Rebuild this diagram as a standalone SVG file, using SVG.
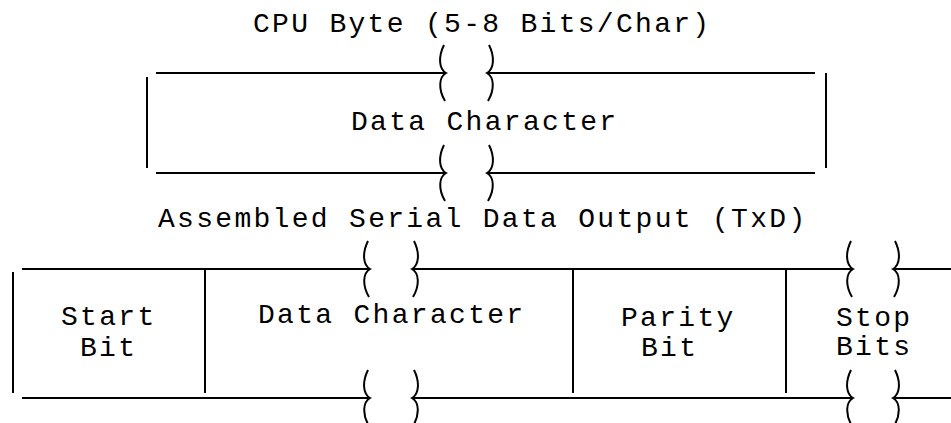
<svg xmlns="http://www.w3.org/2000/svg" width="951" height="423" viewBox="0 0 951 423">
<style>
  .ln { stroke: #000; stroke-width: 2; fill: none; stroke-linecap: butt; }
  .br { stroke: #000; stroke-width: 2; fill: none; }
  .t { font-family: "Liberation Mono", "DejaVu Sans Mono", monospace; font-size: 28px; letter-spacing: 2.3px; fill: #000; }
</style>
<defs>
  <path id="brL" class="br" d="M -2,-28 C -8,-16 -7,-4 0,0 C -7,4 -8,16 -1,28"/>
  <path id="brR" class="br" d="M 2,-28 C 8,-16 7,-4 0,0 C 7,4 8,16 1,28"/>
</defs>
<rect width="951" height="423" fill="#fff"/>

<text class="t" x="253" y="32">CPU Byte (5-8 Bits/Char)</text>

<g id="cpu-data-character">
  <line class="ln" x1="156" y1="73" x2="446" y2="73"/>
  <line class="ln" x1="487" y1="73" x2="815" y2="73"/>
  <line class="ln" x1="156" y1="173" x2="446" y2="173"/>
  <line class="ln" x1="487" y1="173" x2="815" y2="173"/>
  <line class="ln" x1="147" y1="77" x2="147" y2="168"/>
  <line class="ln" x1="826" y1="73" x2="826" y2="168"/>
  <use href="#brL" x="446" y="73"/>
  <use href="#brR" x="487" y="73"/>
  <use href="#brL" x="446" y="173"/>
  <use href="#brR" x="487" y="173"/>
  <text class="t" x="351" y="130">Data Character</text>
</g>

<text class="t" x="158" y="227">Assembled Serial Data Output (TxD)</text>

<g id="serial-frame">
  <line class="ln" x1="22" y1="269" x2="370" y2="269"/>
  <line class="ln" x1="412" y1="269" x2="853" y2="269"/>
  <line class="ln" x1="893" y1="269" x2="951" y2="269"/>
  <line class="ln" x1="22" y1="398" x2="370" y2="398"/>
  <line class="ln" x1="412" y1="398" x2="853" y2="398"/>
  <line class="ln" x1="893" y1="398" x2="951" y2="398"/>
  <use href="#brL" x="370" y="269"/>
  <use href="#brR" x="412" y="269"/>
  <use href="#brL" x="370" y="398"/>
  <use href="#brR" x="412" y="398"/>
  <use href="#brL" x="853" y="269"/>
  <use href="#brR" x="893" y="269"/>
  <use href="#brL" x="853" y="398"/>
  <use href="#brR" x="893" y="398"/>
</g>

<g id="start-bit">
  <line class="ln" x1="13" y1="272" x2="13" y2="393"/>
  <text class="t" x="61" y="325">Start</text>
  <text class="t" x="80" y="356">Bit</text>
</g>

<g id="data-character">
  <line class="ln" x1="205" y1="269" x2="205" y2="393"/>
  <text class="t" x="258" y="323">Data Character</text>
</g>

<g id="parity-bit">
  <line class="ln" x1="573" y1="269" x2="573" y2="393"/>
  <text class="t" x="621" y="326">Parity</text>
  <text class="t" x="641" y="356">Bit</text>
</g>

<g id="stop-bits">
  <line class="ln" x1="786" y1="269" x2="786" y2="393"/>
  <text class="t" x="836" y="326">Stop</text>
  <text class="t" x="836" y="355">Bits</text>
</g>
</svg>
